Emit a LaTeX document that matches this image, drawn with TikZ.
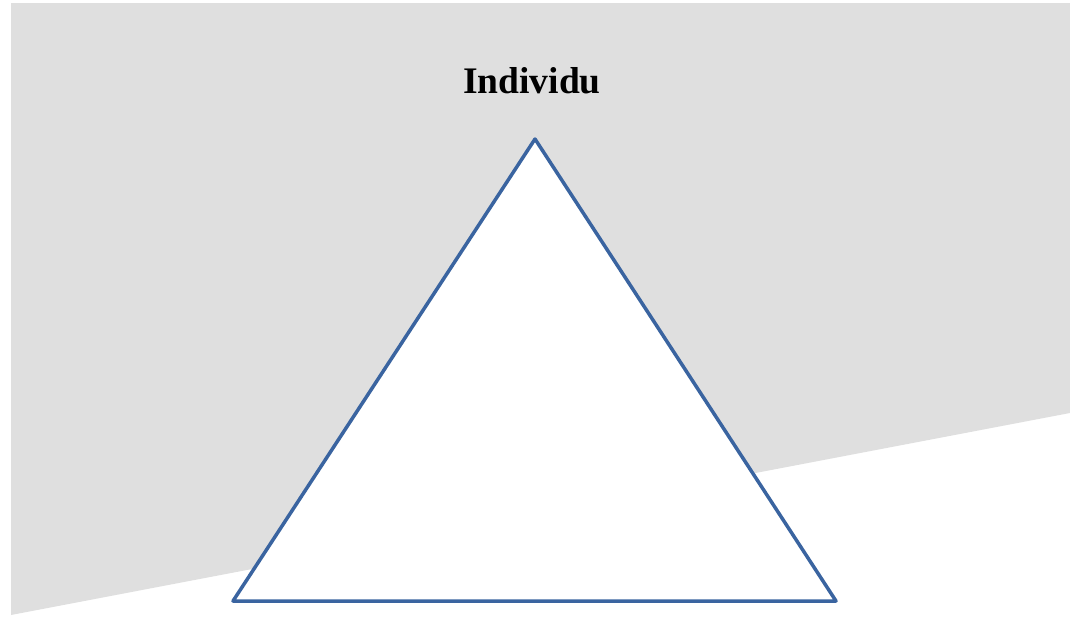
\documentclass[tikz,border=0pt]{standalone}
\usepackage{fontspec}
\setmainfont{Liberation Serif}
\definecolor{bggray}{HTML}{DFDFDF}
\definecolor{triblue}{RGB}{58,100,160}
\begin{document}
\begin{tikzpicture}[x=1pt,y=-1pt,
  trianglestyle/.style={draw=triblue,line width=3.5pt,fill=white,line join=round}]
\useasboundingbox (0,0) rectangle (1070,616);
\fill[bggray] (11,3) -- (1070,3) -- (1070,413) -- (11,615) -- cycle;
\coordinate (apex) at (535,139);
\coordinate (bl) at (233,601);
\coordinate (br) at (836,601);
\draw[trianglestyle] (apex) -- (bl) -- (br) -- cycle;
\node[font=\fontsize{37.5}{40}\selectfont\bfseries, anchor=base] (title) at (532,93) {Individu};
\end{tikzpicture}
\end{document}
